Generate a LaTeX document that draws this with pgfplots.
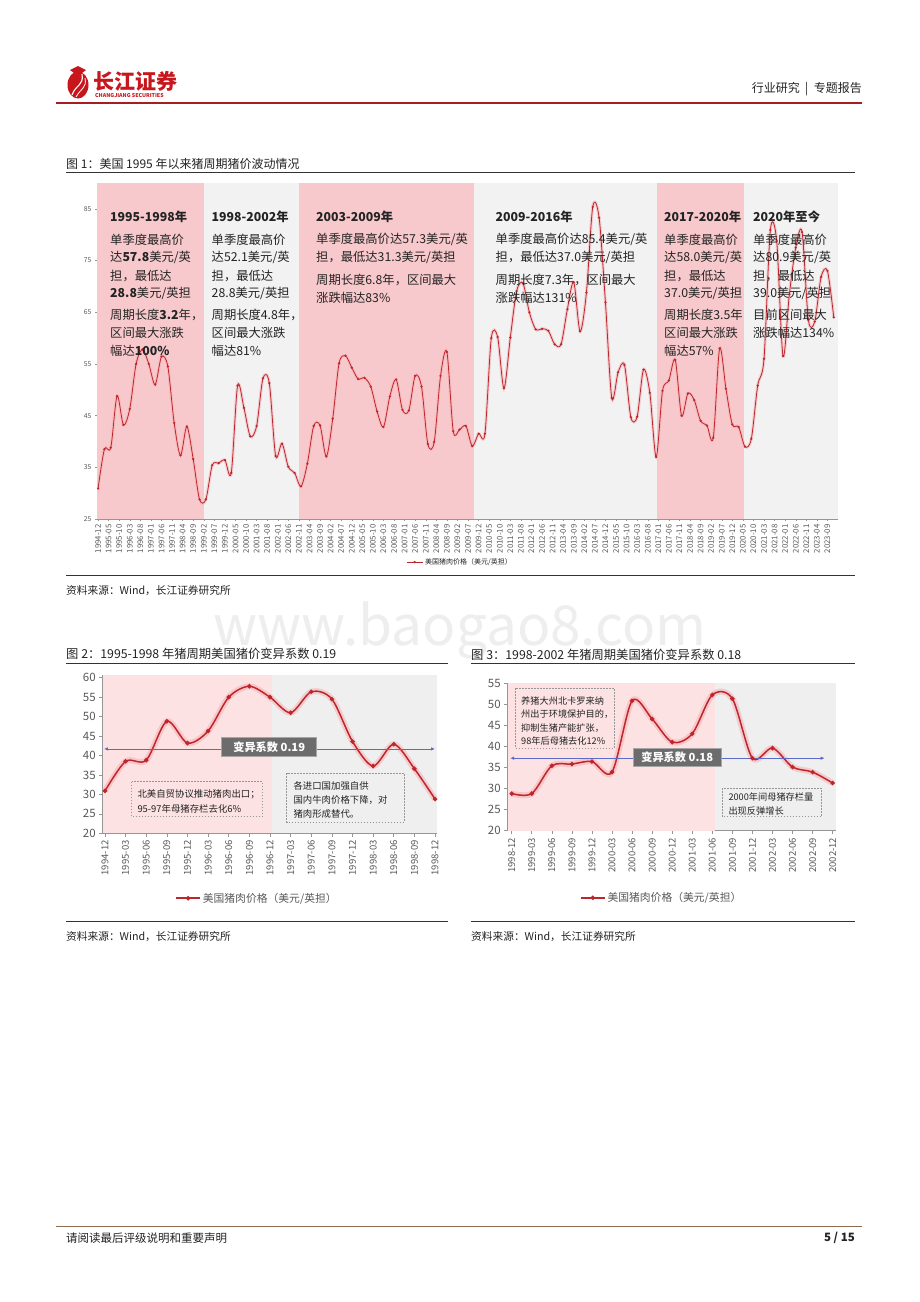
\documentclass[border=0pt]{standalone}
\usepackage{fontspec}
\setmainfont{Noto Sans CJK SC}
\usepackage{pgfplots}
\pgfplotsset{compat=1.18}
\usetikzlibrary{arrows.meta}

\definecolor{bandpink}{RGB}{248,201,204}
\definecolor{bggray}{RGB}{242,242,242}
\definecolor{lightpink}{RGB}{252,226,227}
\definecolor{lightgray}{RGB}{239,239,239}
\definecolor{pricered}{RGB}{190,38,44}
\definecolor{glowpink}{RGB}{245,170,175}
\definecolor{axisgray}{RGB}{150,150,150}
\definecolor{tickgray}{RGB}{89,89,89}
\definecolor{refblue}{RGB}{92,106,200}
\definecolor{boxgray}{RGB}{108,108,108}
\definecolor{logored}{RGB}{200,22,29}
\definecolor{headred}{RGB}{166,29,36}
\definecolor{footbrown}{RGB}{140,107,80}
\definecolor{wmgray}{RGB}{238,238,238}
\definecolor{darktext}{RGB}{35,35,35}

\newcommand{\fs}[1]{\fontsize{#1}{#1}\selectfont}
\newcommand{\txt}[4][]{\node[anchor=west, inner sep=0pt, text=darktext, #1] at (#2,-#3) {#4};}

% US hog price, quarterly, month index from 1994-12
\pgfplotstableread{
m p
0 30.9
3 38.5
6 38.8
9 48.8
12 43.2
15 46.3
18 55.0
21 57.8
24 55.0
27 51.0
30 56.4
33 54.5
36 43.6
39 37.3
42 42.9
45 36.6
48 28.8
51 28.8
54 35.4
57 35.8
60 36.4
63 33.9
66 50.8
69 46.5
72 41.0
75 43.0
78 52.2
81 51.3
84 37.2
87 39.6
90 35.1
93 33.9
96 31.3
99 35.7
102 43.0
105 43.1
108 37.1
111 44.4
114 55.1
117 56.6
120 54.3
123 52.1
126 52.3
129 50.6
132 45.8
135 42.8
138 48.7
141 52.0
144 46.1
147 46.0
150 52.7
153 50.6
156 39.5
159 39.9
162 52.7
165 57.3
168 42.0
171 42.3
174 43.0
177 39.1
180 41.5
183 41.5
186 60.0
189 60.2
192 50.3
195 60.1
198 69.1
201 70.6
204 65.0
207 61.7
210 61.8
213 61.4
216 58.8
219 58.8
222 65.6
225 70.8
228 61.3
231 68.8
234 85.4
237 83.3
240 66.9
243 48.4
246 53.4
249 54.8
252 44.7
255 44.8
258 53.9
261 49.4
264 37.0
267 49.8
270 51.8
273 55.8
276 45.0
279 49.3
282 48.0
285 44.0
288 43.1
291 40.7
294 58.0
297 50.2
300 43.3
303 42.8
306 39.0
309 40.5
312 50.8
315 56.0
318 80.9
321 78.8
324 56.5
327 68.5
330 77.5
333 80.5
336 63.5
339 63.2
342 71.8
345 73.0
348 64.0
}\hogall

\pgfplotstableread{
i p
0 30.9
1 38.5
2 38.8
3 48.8
4 43.2
5 46.3
6 55.0
7 57.8
8 55.0
9 51.0
10 56.4
11 54.5
12 43.6
13 37.3
14 42.9
15 36.6
16 28.8
}\hogA

\pgfplotstableread{
i p
0 28.8
1 28.8
2 35.4
3 35.8
4 36.4
5 33.9
6 50.8
7 46.5
8 41.0
9 43.0
10 52.2
11 51.3
12 37.2
13 39.6
14 35.1
15 33.9
16 31.3
}\hogB

\pgfplotsset{
  small chart/.style={
    scale only axis, anchor=south west,
    axis lines*=left,
    axis line style={draw=axisgray, line width=0.6pt},
    tick style={draw=axisgray, line width=0.6pt},
    tick align=outside, major tick length=3.5pt,
    xtick={0,...,16},
    ytick distance=5,
    /pgf/number format/assume math mode=true,
    x tick label style={rotate=90, anchor=east, font=\fs{9.5}, text=tickgray},
    y tick label style={font=\fs{11.5}, text=tickgray},
    axis background/.style={fill=lightgray},
    legend style={draw=none, fill=none, font=\fs{10.8}, text=tickgray, anchor=center},
    legend image code/.code={\draw[mark repeat=2, mark phase=2, ##1] plot coordinates {(0pt,0pt) (12pt,0pt) (24pt,0pt)};},
  },
}

\begin{document}
\begin{tikzpicture}[x=1pt, y=1pt]
\useasboundingbox (0,0) rectangle (920,-1302);
\fill[white] (0,0) rectangle (920,-1302);

% watermark
\node[text=wmgray, font=\fs{55}] at (460,-630) {www.baogao8.com};

% header
\fill[logored] (78,-85) ellipse (10.5 and 13.5);
\draw[white, line width=1.1pt] (72,-95) .. controls (76,-84) and (84,-86) .. (82,-74);
\draw[white, line width=0.8pt] (76,-97) .. controls (81,-88) and (87,-88) .. (85,-78);
\fill[logored] (70,-70) -- (78,-66) -- (86,-70) -- (82,-73) -- (74,-73) -- cycle;
\node[anchor=west, inner sep=0pt, text=logored, font=\fs{21}\bfseries] at (93,-81) {长江证券};
\node[anchor=west, inner sep=0pt, text=logored, font=\fs{5.3}\bfseries] at (95,-95.5) {CHANGJIANG SECURITIES};
\node[anchor=east, inner sep=0pt, text=darktext, font=\fs{12}] at (862,-89) {行业研究\;\,|\;\,专题报告};
\draw[headred, line width=2pt] (56,-102.5) -- (862,-102.5);

% ---------------- figure 1 ----------------
\txt[font=\fs{12}]{66}{164}{图 1：美国 1995 年以来猪周期猪价波动情况}
\draw[black!80, line width=0.8pt] (66,-172) -- (855,-172);

\begin{axis}[
  at={(97pt,-519pt)}, anchor=south west,
  scale only axis, width=741pt, height=336pt,
  xmin=-0.5, xmax=350, ymin=25, ymax=90,
  axis lines*=left,
  axis line style={draw=axisgray, line width=0.5pt},
  tick style={draw=axisgray, line width=0.4pt},
  tick align=outside, major tick length=2pt,
  axis background/.style={fill=bggray},
  /pgf/number format/assume math mode=true,
  xtick={0,5,...,345},
  xticklabels={1994-12,1995-05,1995-10,1996-03,1996-08,1997-01,1997-06,1997-11,1998-04,1998-09,1999-02,1999-07,1999-12,2000-05,2000-10,2001-03,2001-08,2002-01,2002-06,2002-11,2003-04,2003-09,2004-02,2004-07,2004-12,2005-05,2005-10,2006-03,2006-08,2007-01,2007-06,2007-11,2008-04,2008-09,2009-02,2009-07,2009-12,2010-05,2010-10,2011-03,2011-08,2012-01,2012-06,2012-11,2013-04,2013-09,2014-02,2014-07,2014-12,2015-05,2015-10,2016-03,2016-08,2017-01,2017-06,2017-11,2018-04,2018-09,2019-02,2019-07,2019-12,2020-05,2020-10,2021-03,2021-08,2022-01,2022-06,2022-11,2023-04,2023-09},
  x tick label style={rotate=90, anchor=east, font=\fs{7.8}, text=tickgray},
  ytick={25,35,...,85},
  y tick label style={font=\fs{6.8}, text=tickgray},
  legend style={at={(0.49,-0.128)}, anchor=center, draw=none, fill=none, font=\fs{7}, text=darktext},
  legend image code/.code={\draw[mark repeat=2, mark phase=2, #1] plot coordinates {(0pt,0pt) (8pt,0pt) (16pt,0pt)};},
]
\fill[bandpink] (axis cs:-0.5,25) rectangle (axis cs:50,90);
\fill[bandpink] (axis cs:95,25) rectangle (axis cs:178,90);
\fill[bandpink] (axis cs:264.5,25) rectangle (axis cs:305.5,90);
\addplot[glowpink, opacity=0.5, line width=3pt, smooth, forget plot] table[x=m, y=p] {\hogall};
\addplot[pricered, line width=0.8pt, smooth, mark=*, mark size=0.7pt] table[x=m, y=p] {\hogall};
\addlegendentry{美国猪肉价格（美元/英担）}
\end{axis}

% annotations in the bands
\txt[font=\fs{12.3}\bfseries]{110}{217}{1995-1998年}
\txt[font=\fs{12.3}]{110}{239.5}{单季度最高价}
\txt[font=\fs{12.3}]{110}{257.5}{达\textbf{57.8}美元/英}
\txt[font=\fs{12.3}]{110}{275.5}{担，最低达}
\txt[font=\fs{12.3}]{110}{293.5}{\textbf{28.8}美元/英担}
\txt[font=\fs{12.3}]{110}{315}{周期长度\textbf{3.2}年，}
\txt[font=\fs{12.3}]{110}{333}{区间最大涨跌}
\txt[font=\fs{12.3}]{110}{351}{幅达\textbf{100\%}}

\txt[font=\fs{12.3}\bfseries]{211.5}{217}{1998-2002年}
\txt[font=\fs{12.3}]{211.5}{239.5}{单季度最高价}
\txt[font=\fs{12.3}]{211.5}{257.5}{达52.1美元/英}
\txt[font=\fs{12.3}]{211.5}{275.5}{担，最低达}
\txt[font=\fs{12.3}]{211.5}{293.5}{28.8美元/英担}
\txt[font=\fs{12.3}]{211.5}{315}{周期长度4.8年，}
\txt[font=\fs{12.3}]{211.5}{333}{区间最大涨跌}
\txt[font=\fs{12.3}]{211.5}{351}{幅达81\%}

\txt[font=\fs{12.3}\bfseries]{316}{217}{2003-2009年}
\txt[font=\fs{12.3}]{316}{239.5}{单季度最高价达57.3美元/英}
\txt[font=\fs{12.3}]{316}{257.5}{担，最低达31.3美元/英担}
\txt[font=\fs{12.3}]{316}{279.5}{周期长度6.8年，区间最大}
\txt[font=\fs{12.3}]{316}{297.5}{涨跌幅达83\%}

\txt[font=\fs{12.3}\bfseries]{495.5}{217}{2009-2016年}
\txt[font=\fs{12.3}]{495.5}{239.5}{单季度最高价达85.4美元/英}
\txt[font=\fs{12.3}]{495.5}{257.5}{担，最低达37.0美元/英担}
\txt[font=\fs{12.3}]{495.5}{279.5}{周期长度7.3年，区间最大}
\txt[font=\fs{12.3}]{495.5}{297.5}{涨跌幅达131\%}

\txt[font=\fs{12.3}\bfseries]{664}{217}{2017-2020年}
\txt[font=\fs{12.3}]{664}{239.5}{单季度最高价}
\txt[font=\fs{12.3}]{664}{257.5}{达58.0美元/英}
\txt[font=\fs{12.3}]{664}{275.5}{担，最低达}
\txt[font=\fs{12.3}]{664}{293.5}{37.0美元/英担}
\txt[font=\fs{12.3}]{664}{315}{周期长度3.5年}
\txt[font=\fs{12.3}]{664}{333}{区间最大涨跌}
\txt[font=\fs{12.3}]{664}{351}{幅达57\%}

\txt[font=\fs{12.3}\bfseries]{753}{217}{2020年至今}
\txt[font=\fs{12.3}]{753}{239.5}{单季度最高价}
\txt[font=\fs{12.3}]{753}{257.5}{达80.9美元/英}
\txt[font=\fs{12.3}]{753}{275.5}{担，最低达}
\txt[font=\fs{12.3}]{753}{293.5}{39.0美元/英担}
\txt[font=\fs{12.3}]{753}{315}{目前区间最大}
\txt[font=\fs{12.3}]{753}{333}{涨跌幅达134\%}

\draw[black!80, line width=0.8pt] (66,-575) -- (855,-575);
\txt[font=\fs{10.7}]{66}{591}{资料来源：Wind，长江证券研究所}

% ---------------- figure 2 ----------------
\txt[font=\fs{12.3}]{66}{653.5}{图 2：1995-1998 年猪周期美国猪价变异系数 0.19}
\draw[black!80, line width=0.8pt] (66,-663.5) -- (448,-663.5);

\begin{axis}[
  small chart,
  at={(102.7pt,-833.3pt)}, width=334pt, height=158.3pt,
  xmin=-0.11, xmax=16.08, ymin=20, ymax=60.7,
  xticklabels={1994-12,1995-03,1995-06,1995-09,1995-12,1996-03,1996-06,1996-09,1996-12,1997-03,1997-06,1997-09,1997-12,1998-03,1998-06,1998-09,1998-12},
  legend style={at={(0.462,-0.41)}},
]
\fill[lightpink] (axis cs:-0.11,20) rectangle (axis cs:8.1,60.7);
\addplot[glowpink, opacity=0.5, line width=6pt, smooth, forget plot] table[x=i, y=p] {\hogA};
\addplot[pricered, line width=1.5pt, smooth, mark=*, mark size=1.4pt] table[x=i, y=p] {\hogA};
\addlegendentry{美国猪肉价格（美元/英担）}
\addplot[refblue, line width=0.8pt, {Latex[length=4pt,width=3.5pt]}-{Latex[length=4pt,width=3.5pt]}, forget plot] coordinates {(-0.05,41.7) (16,41.7)};
\end{axis}

\node[fill=boxgray, draw=black!35, line width=0.8pt, text=white, font=\fs{11.2}\bfseries, minimum width=95pt, minimum height=19pt, inner sep=0pt] at (269.2,-747.2) {变异系数 0.19};
\draw[axisgray, line width=0.5pt, dash pattern=on 1.5pt off 1.5pt] (131.7,-781.7) rectangle (262.3,-816.7);
\txt[font=\fs{9.4}]{137.3}{794.3}{北美自贸协议推动猪肉出口；}
\txt[font=\fs{9.4}]{137.3}{809.3}{95-97年母猪存栏去化6\%}
\draw[axisgray, line width=0.5pt, dash pattern=on 1.5pt off 1.5pt] (286.7,-773.3) rectangle (404.3,-822.3);
\txt[font=\fs{9.4}]{293.3}{785.7}{各进口国加强自供}
\txt[font=\fs{9.4}]{293.3}{800}{国内牛肉价格下降，对}
\txt[font=\fs{9.4}]{293.3}{814.3}{猪肉形成替代。}

\draw[black!80, line width=0.8pt] (66,-921) -- (448,-921);
\txt[font=\fs{10.7}]{66}{937}{资料来源：Wind，长江证券研究所}

% ---------------- figure 3 ----------------
\txt[font=\fs{12.3}]{471}{655}{图 3：1998-2002 年猪周期美国猪价变异系数 0.18}
\draw[black!80, line width=0.8pt] (471,-663.5) -- (855,-663.5);

\begin{axis}[
  small chart,
  at={(507.7pt,-830.7pt)}, width=328pt, height=148pt,
  xmin=-0.2, xmax=16.15, ymin=20, ymax=55.1,
  xticklabels={1998-12,1999-03,1999-06,1999-09,1999-12,2000-03,2000-06,2000-09,2000-12,2001-03,2001-06,2001-09,2001-12,2002-03,2002-06,2002-09,2002-12},
  legend style={at={(0.4695,-0.453)}},
]
\fill[lightpink] (axis cs:-0.2,20) rectangle (axis cs:10.15,55.1);
\addplot[glowpink, opacity=0.5, line width=6pt, smooth, forget plot] table[x=i, y=p] {\hogB};
\addplot[pricered, line width=1.5pt, smooth, mark=*, mark size=1.4pt] table[x=i, y=p] {\hogB};
\addlegendentry{美国猪肉价格（美元/英担）}
\addplot[refblue, line width=0.8pt, {Latex[length=4pt,width=3.5pt]}-{Latex[length=4pt,width=3.5pt]}, forget plot] coordinates {(-0.08,37.2) (15.6,37.2)};
\end{axis}

\node[fill=boxgray, draw=black!35, line width=0.8pt, text=white, font=\fs{11.2}\bfseries, minimum width=87.7pt, minimum height=17.7pt, inner sep=0pt] at (677.2,-757.2) {变异系数 0.18};
\draw[axisgray, line width=0.5pt, dash pattern=on 1.5pt off 1.5pt] (515.7,-688.3) rectangle (614.3,-748.3);
\txt[font=\fs{9.2}]{521}{701}{养猪大州北卡罗来纳}
\txt[font=\fs{9.2}]{521}{714.5}{州出于环境保护目的，}
\txt[font=\fs{9.2}]{521}{728}{抑制生猪产能扩张，}
\txt[font=\fs{9.2}]{521}{741}{98年后母猪去化12\%}
\draw[axisgray, line width=0.5pt, dash pattern=on 1.5pt off 1.5pt] (722.3,-788.3) rectangle (821.7,-816.7);
\txt[font=\fs{9.2}]{728.3}{796.7}{2000年间母猪存栏量}
\txt[font=\fs{9.2}]{728.3}{810.5}{出现反弹增长}

\draw[black!80, line width=0.8pt] (471,-921) -- (855,-921);
\txt[font=\fs{10.7}]{471}{937}{资料来源：Wind，长江证券研究所}

% footer
\draw[footbrown, line width=1pt] (56,-1226) -- (862,-1226);
\txt[font=\fs{11.5}]{66}{1238}{请阅读最后评级说明和重要声明}
\node[anchor=east, inner sep=0pt, text=darktext, font=\fs{11.5}\bfseries] at (855,-1238) {5 / 15};
\end{tikzpicture}
\end{document}
